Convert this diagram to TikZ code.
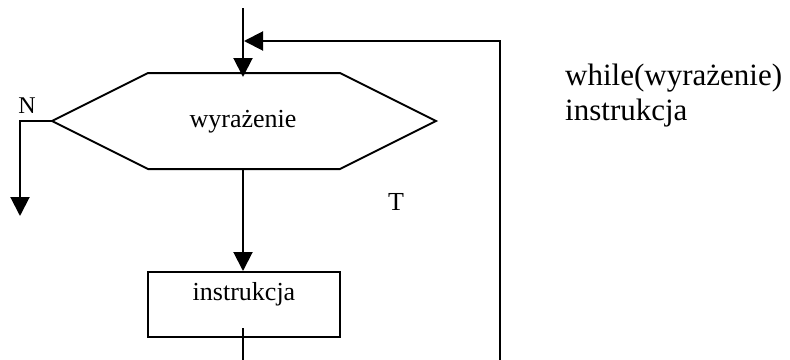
\documentclass[tikz,border=0pt]{standalone}
\usepackage{fontspec}
\setmainfont{Liberation Serif}
\usetikzlibrary{arrows.meta}
\begin{document}
\begin{tikzpicture}[x=1pt,y=-1pt,
  flow/.style={line width=2pt},
  arr/.style={flow,-{Triangle[length=19pt,width=19pt]}},
  txt/.style={inner sep=0pt,anchor=base,font=\fontsize{26}{30}\selectfont},
  small/.style={inner sep=0pt,anchor=base,font=\fontsize{24}{28}\selectfont},
  codetxt/.style={inner sep=0pt,anchor=base west,font=\fontsize{31}{35}\selectfont},
  box/.style={draw,line width=2pt,minimum width=192pt,minimum height=65pt,inner sep=0pt}]
\useasboundingbox (0,0) rectangle (790,359);
\clip (0,0) rectangle (790,359);

% decision hexagon
\coordinate (hl)  at (52,121);
\coordinate (htl) at (148,73);
\coordinate (htr) at (340,73);
\coordinate (hr)  at (436,121);
\coordinate (hbr) at (340,169);
\coordinate (hbl) at (148,169);
\coordinate (htop) at (243,77);
\coordinate (hbot) at (243,169);
\draw[flow,line join=miter] (hl) -- (htl) -- (htr) -- (hr) -- (hbr) -- (hbl) -- cycle;
\node[txt] (cond) at (243,127) {wyrażenie};

% loop body
\node[box] (body) at (244,304.5) {};
\node[txt] (bodytxt) at (244,300) {instrukcja};

% entry and loop-back lines
\coordinate (entry) at (243,8);
\coordinate (merge) at (244,41);
\coordinate (backtop) at (500,41);
\coordinate (backfoot) at (500,362);
\coordinate (bodyout) at (243,328);
\coordinate (bodyfoot) at (243,362);
\draw[arr] (entry) -- (htop);
\draw[arr] (backfoot) -- (backtop) -- (merge);
\draw[arr] (hbot) -- (hbot |- body.north);
\draw[flow] (bodyout) -- (bodyfoot);

% exit branch
\coordinate (nbend) at (20,121);
\coordinate (nend) at (20,216);
\draw[arr] (hl) -- (nbend) -- (nend);
\node[small] (nlab) at (27,113) {N};
\node[txt] (tlab) at (396,210) {T};

% source form
\node[codetxt] (code1) at (565,85) {while(wyrażenie)};
\node[codetxt] (code2) at (565,120) {instrukcja};
\end{tikzpicture}
\end{document}
